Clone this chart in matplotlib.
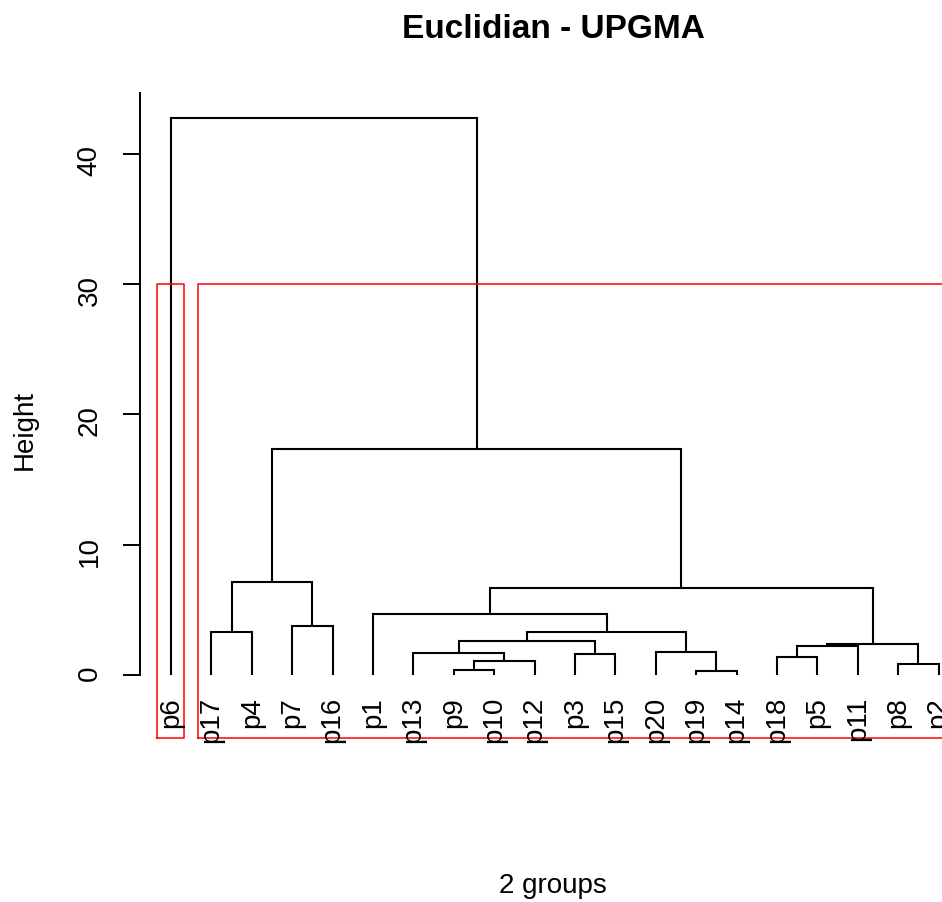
import matplotlib.pyplot as plt

plt.rcParams['font.family'] = ['Liberation Sans', 'DejaVu Sans']

# Leaf order along the x axis
leaves = ['p6', 'p17', 'p4', 'p7', 'p16', 'p1', 'p13', 'p9', 'p10', 'p12',
          'p3', 'p15', 'p20', 'p19', 'p14', 'p18', 'p5', 'p11', 'p8', 'p2']

# Agglomeration steps (UPGMA): children are leaf names or earlier merges 'm<k>'
merge_left = ['p19', 'p9', 'p8', 'm2', 'p18', 'p3', 'p13', 'p20', 'm5', 'm9',
              'm7', 'm11', 'p17', 'p7', 'p1', 'm15', 'm13', 'm17', 'p6']
merge_right = ['p14', 'p10', 'p2', 'p12', 'p5', 'p15', 'm4', 'm1', 'p11', 'm3',
               'm6', 'm8', 'p4', 'p16', 'm12', 'm10', 'm14', 'm16', 'm18']
merge_height = [0.28, 0.40, 0.84, 1.10, 1.36, 1.60, 1.66, 1.80, 2.25, 2.38,
                2.58, 3.28, 3.32, 3.78, 4.65, 6.65, 7.11, 17.34, 42.75]

n_groups = 2

fig = plt.figure(figsize=(9.42, 9.03), dpi=100)
ax = fig.add_axes([140.3 / 942, (903 - 738.5) / 903, 829 / 942, 644.9 / 903])

# node positions: leaves at 1..n, merges at midpoint of their children
pos = {name: (i + 1, 0.0) for i, name in enumerate(leaves)}
members = {name: [name] for name in leaves}
for k, (a, b, h) in enumerate(zip(merge_left, merge_right, merge_height), start=1):
    xa, ya = pos[a]
    xb, yb = pos[b]
    ax.plot([xa, xa, xb, xb], [ya, h, h, yb], color='black', lw=1.5,
            solid_joinstyle='miter', solid_capstyle='butt')
    pos['m%d' % k] = ((xa + xb) / 2, h)
    members['m%d' % k] = members[a] + members[b]

xlim = (0.24, 20.76)
ylim = (-4.8, 44.7)
ax.set_xlim(*xlim)
ax.set_ylim(*ylim)

# leaf labels hanging below the tips
for i, name in enumerate(leaves):
    ax.annotate(name, (i + 1, 0), xytext=(0, -15), textcoords='offset points',
                rotation=90, ha='center', va='top', fontsize=20,
                annotation_clip=False)

# boxes around the clusters of the cut tree (like rect.hclust)
groups = [members[merge_left[-1]], members[merge_right[-1]]]
groups.sort(key=lambda g: min(leaves.index(x) for x in g))
cut_h = (merge_height[-1] + merge_height[-n_groups]) / 2
start = 0
for g in groups:
    end = start + len(g)
    ax.plot([start + 0.66, end + 0.33, end + 0.33, start + 0.66, start + 0.66],
            [ylim[0], ylim[0], cut_h, cut_h, ylim[0]],
            color='red', lw=1.1, clip_on=False)
    start = end

for side in ['top', 'right', 'bottom']:
    ax.spines[side].set_visible(False)
ax.spines['left'].set_bounds(0, 44.7)
ax.spines['left'].set_linewidth(1.4)
ax.set_xticks([])
ax.set_yticks([0, 10, 20, 30, 40])
ax.tick_params(axis='y', length=12.2, width=1.4, pad=15, labelsize=20,
               labelrotation=90)

fig.text(553 / 942, 1 - 29 / 903, 'Euclidian - UPGMA', ha='center', va='center',
         fontsize=24, fontweight='bold')
fig.text(25 / 942, 1 - 430 / 903, 'Height', ha='center', va='center',
         rotation=90, fontsize=20)
fig.text(553 / 942, 1 - 886 / 903, '2 groups', ha='center', va='center',
         fontsize=20)

fig.savefig('out.png', dpi=100)
